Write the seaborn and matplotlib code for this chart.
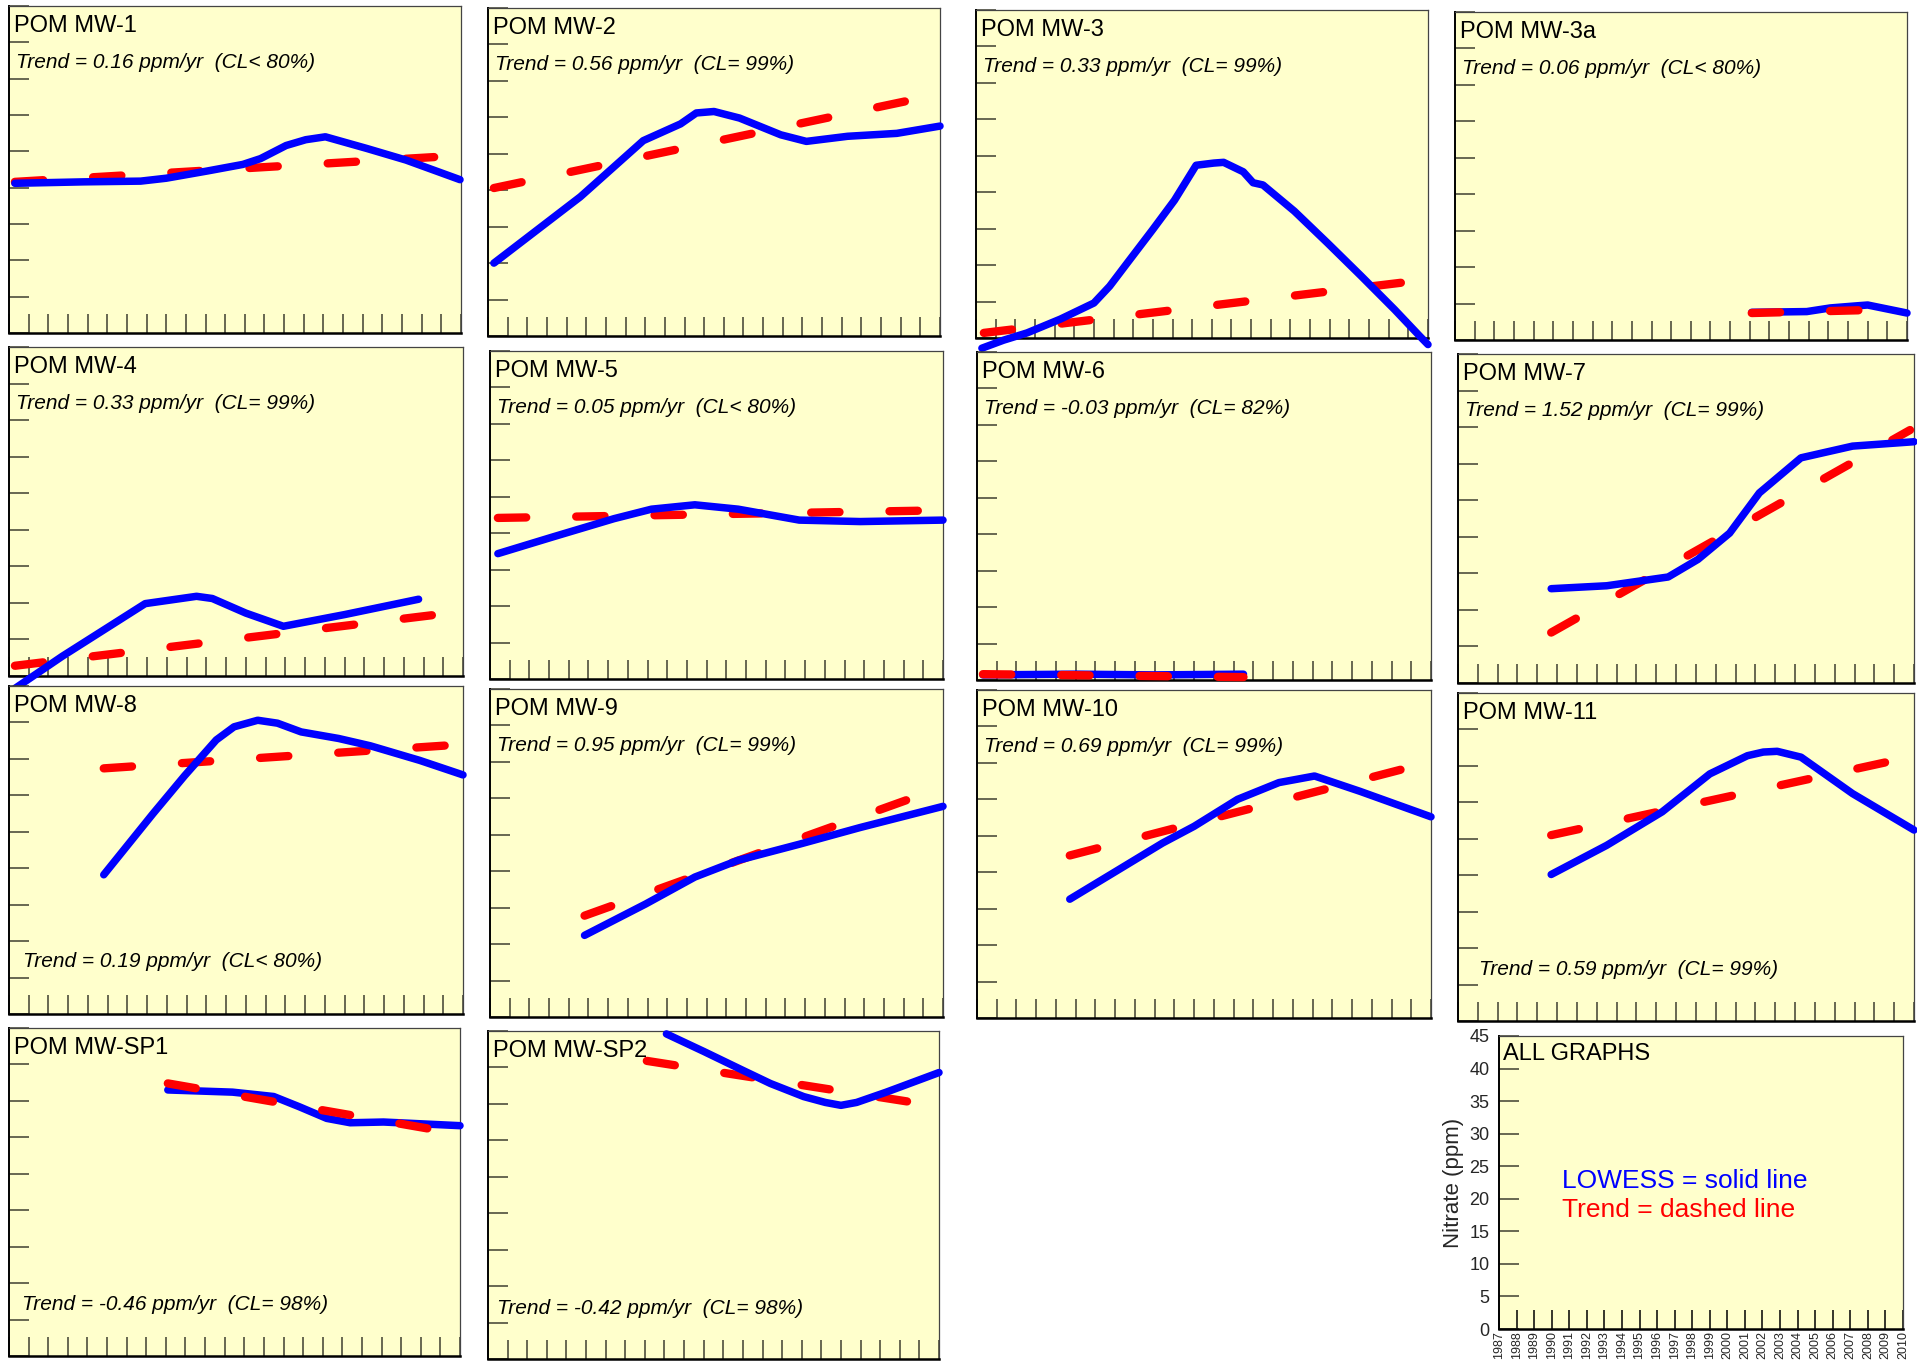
import matplotlib
matplotlib.use("Agg")
import matplotlib.pyplot as plt
import seaborn as sns
import pandas as pd

# ------------------------------------------------------------------ data
YEAR_TICKS = list(range(1987, 2011))
NITRATE_TICKS = list(range(0, 50, 5))

MW1_YEAR = [1987.3, 1990.8, 1993.7, 1995.0, 1997.1, 1998.9, 1999.8, 2001.1, 2002.1, 2003.1, 2005.2, 2007.2, 2009.95]
MW1_LOWESS = [20.6, 20.8, 20.9, 21.3, 22.3, 23.2, 24.0, 25.8, 26.6, 27.0, 25.4, 23.8, 21.1]
MW1_TREND_YEAR = [1987.3, 2009.2]
MW1_TREND = [20.8, 24.3]

MW2_YEAR = [1987.3, 1991.7, 1994.9, 1996.8, 1997.6, 1998.5, 1999.8, 2001.9, 2003.2, 2005.3, 2007.8, 2010.0]
MW2_LOWESS = [10.0, 19.1, 26.8, 29.1, 30.6, 30.8, 29.9, 27.6, 26.7, 27.4, 27.8, 28.8]
MW2_TREND_YEAR = [1987.3, 2008.6]
MW2_TREND = [20.3, 32.4]

MW3_YEAR = [1987.3, 1988.4, 1989.6, 1991.3, 1993.0, 1993.8, 1994.7, 1996.0, 1997.1, 1998.2, 1999.1,
            1999.6, 2000.6, 2001.1, 2001.6, 2003.2, 2004.9, 2006.6, 2008.3, 2009.6, 2010.0]
MW3_LOWESS = [-1.4, -0.3, 0.7, 2.6, 4.8, 7.1, 10.3, 14.9, 18.9, 23.7, 24.0,
              24.1, 22.8, 21.3, 21.0, 17.4, 13.0, 8.5, 3.9, 0.2, -0.9]
MW3_TREND_YEAR = [1987.4, 2009.0]
MW3_TREND = [0.7, 7.7]

MW3A_YEAR = [2002.1, 2004.9, 2006.1, 2007.5, 2008.0, 2010.0]
MW3A_LOWESS = [3.8, 3.9, 4.4, 4.7, 4.8, 3.7]
MW3A_TREND_YEAR = [2002.1, 2007.9]
MW3A_TREND = [3.7, 4.1]

MW4_YEAR = [1987.3, 1989.7, 1991.8, 1993.9, 1996.5, 1997.3, 1999.0, 2000.9, 2004.0, 2007.75]
MW4_LOWESS = [-1.7, 2.7, 6.3, 9.9, 10.9, 10.6, 8.6, 6.8, 8.4, 10.5]
MW4_TREND_YEAR = [1987.3, 2009.0]
MW4_TREND = [1.4, 8.5]

MW5_YEAR = [1987.4, 1990.2, 1993.3, 1995.2, 1997.4, 1999.6, 2002.7, 2005.8, 2010.0]
MW5_LOWESS = [17.2, 19.5, 22.0, 23.3, 23.9, 23.3, 21.8, 21.6, 21.8]
MW5_TREND_YEAR = [1987.4, 2009.1]
MW5_TREND = [22.1, 23.1]

MW6_YEAR = [1987.3, 1992.0, 1996.0, 2000.5]
MW6_LOWESS = [0.7, 0.8, 0.7, 0.8]
MW6_TREND_YEAR = [1987.3, 2000.5]
MW6_TREND = [0.8, 0.4]

MW7_YEAR = [1991.7, 1994.5, 1997.6, 1999.1, 2000.7, 2002.2, 2004.3, 2006.9, 2010.0]
MW7_LOWESS = [12.9, 13.3, 14.5, 16.9, 20.5, 26.0, 30.8, 32.4, 33.0]
MW7_TREND_YEAR = [1991.7, 2009.8]
MW7_TREND = [6.9, 34.6]

MW8_YEAR = [1991.8, 1994.3, 1995.9, 1997.5, 1998.4, 1999.6, 2000.6, 2001.8, 2003.7, 2005.3, 2007.8, 2010.0]
MW8_LOWESS = [19.1, 27.5, 32.7, 37.6, 39.4, 40.3, 39.9, 38.7, 37.8, 36.8, 34.8, 32.8]
MW8_TREND_YEAR = [1991.8, 2009.5]
MW8_TREND = [33.7, 36.9]

MW9_YEAR = [1991.8, 1994.9, 1997.4, 1999.6, 2002.7, 2005.8, 2010.0]
MW9_LOWESS = [11.2, 15.5, 19.2, 21.5, 23.7, 26.0, 28.9]
MW9_TREND_YEAR = [1991.8, 2008.3]
MW9_TREND = [13.9, 29.9]

MW10_YEAR = [1991.7, 1993.9, 1996.4, 1998.0, 2000.2, 2002.3, 2004.1, 2006.4, 2010.0]
MW10_LOWESS = [16.3, 19.9, 24.0, 26.3, 30.0, 32.3, 33.2, 31.1, 27.6]
MW10_TREND_YEAR = [1991.7, 2008.8]
MW10_TREND = [22.3, 34.3]

MW11_YEAR = [1991.7, 1994.5, 1997.3, 1999.7, 2001.6, 2002.4, 2003.1, 2004.3, 2006.9, 2010.0]
MW11_LOWESS = [20.1, 24.1, 28.7, 33.9, 36.4, 36.9, 37.0, 36.2, 31.2, 26.2]
MW11_TREND_YEAR = [1991.7, 2009.1]
MW11_TREND = [25.5, 35.8]

SP1_YEAR = [1995.1, 1998.4, 2000.5, 2001.8, 2003.2, 2004.4, 2006.1, 2010.0]
SP1_LOWESS = [36.5, 36.2, 35.6, 34.2, 32.6, 32.0, 32.1, 31.6]
SP1_TREND_YEAR = [1995.1, 2008.6]
SP1_TREND = [37.4, 31.1]

SP2_YEAR = [1996.1, 1998.0, 2000.0, 2001.4, 2003.1, 2004.2, 2005.0, 2005.8, 2007.3, 2010.0]
SP2_LOWESS = [44.6, 42.2, 39.6, 37.8, 36.0, 35.2, 34.8, 35.2, 36.6, 39.3]
SP2_TREND_YEAR = [1995.1, 2008.7]
SP2_TREND = [40.9, 35.2]

TITLES = ["POM MW-1", "POM MW-2", "POM MW-3", "POM MW-3a", "POM MW-4", "POM MW-5", "POM MW-6",
          "POM MW-7", "POM MW-8", "POM MW-9", "POM MW-10", "POM MW-11", "POM MW-SP1", "POM MW-SP2"]
TREND_LABELS = [
    "Trend = 0.16 ppm/yr  (CL< 80%)", "Trend = 0.56 ppm/yr  (CL= 99%)",
    "Trend = 0.33 ppm/yr  (CL= 99%)", "Trend = 0.06 ppm/yr  (CL< 80%)",
    "Trend = 0.33 ppm/yr  (CL= 99%)", "Trend = 0.05 ppm/yr  (CL< 80%)",
    "Trend = -0.03 ppm/yr  (CL= 82%)", "Trend = 1.52 ppm/yr  (CL= 99%)",
    "Trend = 0.19 ppm/yr  (CL< 80%)", "Trend = 0.95 ppm/yr  (CL= 99%)",
    "Trend = 0.69 ppm/yr  (CL= 99%)", "Trend = 0.59 ppm/yr  (CL= 99%)",
    "Trend = -0.46 ppm/yr  (CL= 98%)", "Trend = -0.42 ppm/yr  (CL= 98%)",
]
SERIES = [
    (MW1_YEAR, MW1_LOWESS, MW1_TREND_YEAR, MW1_TREND),
    (MW2_YEAR, MW2_LOWESS, MW2_TREND_YEAR, MW2_TREND),
    (MW3_YEAR, MW3_LOWESS, MW3_TREND_YEAR, MW3_TREND),
    (MW3A_YEAR, MW3A_LOWESS, MW3A_TREND_YEAR, MW3A_TREND),
    (MW4_YEAR, MW4_LOWESS, MW4_TREND_YEAR, MW4_TREND),
    (MW5_YEAR, MW5_LOWESS, MW5_TREND_YEAR, MW5_TREND),
    (MW6_YEAR, MW6_LOWESS, MW6_TREND_YEAR, MW6_TREND),
    (MW7_YEAR, MW7_LOWESS, MW7_TREND_YEAR, MW7_TREND),
    (MW8_YEAR, MW8_LOWESS, MW8_TREND_YEAR, MW8_TREND),
    (MW9_YEAR, MW9_LOWESS, MW9_TREND_YEAR, MW9_TREND),
    (MW10_YEAR, MW10_LOWESS, MW10_TREND_YEAR, MW10_TREND),
    (MW11_YEAR, MW11_LOWESS, MW11_TREND_YEAR, MW11_TREND),
    (SP1_YEAR, SP1_LOWESS, SP1_TREND_YEAR, SP1_TREND),
    (SP2_YEAR, SP2_LOWESS, SP2_TREND_YEAR, SP2_TREND),
]

# ------------------------------------------------------------------ layout / style
W, H, DPI = 1917, 1362, 100
PX = 72.0 / DPI  # pixels -> points

# panel rectangles in pixels: left, top, right, bottom
RECTS = [
    (9, 6, 461, 333), (488, 8, 940, 336), (976, 10, 1428, 338), (1455, 12, 1907, 340),
    (9, 347, 463, 676), (490, 351, 943, 679), (977, 352, 1431, 680), (1458, 354, 1914, 683),
    (9, 686, 463, 1014), (490, 689, 943, 1017), (977, 690, 1431, 1018), (1458, 693, 1914, 1021),
    (9, 1028, 460, 1356), (488, 1031, 939, 1359),
]
ALL_RECT = (1499, 1036, 1903, 1329)
TEXT_POS = [("top", 7, 62)] * 8 + [("bottom", 14, 47), ("top", 7, 62), ("top", 7, 62),
                                   ("bottom", 21, 46), ("bottom", 13, 46), ("bottom", 9, 45)]
RED_ON_TOP = {3, 6, 12}

BG = "#FFFFCC"
BLUE = "#0000FF"
RED = "#FF0000"
TICK_C = "#3f3f30"

sns.set_style("ticks")
plt.rcParams["font.family"] = ["Liberation Sans", "DejaVu Sans"]

fig = plt.figure(figsize=(W / DPI, H / DPI), dpi=DPI)
fig.patch.set_facecolor("white")


def make_axes(rect):
    l, t, r, b = rect
    ax = fig.add_axes([l / W, 1 - b / H, (r - l) / W, (b - t) / H])
    ax.set_facecolor(BG)
    ax.set_xlim(1987, 2010)
    ax.set_ylim(0, 45)
    ax.set_xticks(YEAR_TICKS)
    ax.set_yticks(NITRATE_TICKS)
    ax.tick_params(axis="y", direction="in", length=20 * PX, width=1.1, color=TICK_C)
    ax.tick_params(axis="x", direction="in", length=19 * PX, width=1.1, color=TICK_C)
    for side in ("top", "right"):
        ax.spines[side].set_visible(True)
        ax.spines[side].set_color("#444444")
        ax.spines[side].set_linewidth(0.9)
    ax.spines["left"].set_color("black")
    ax.spines["left"].set_linewidth(1.4)
    ax.spines["bottom"].set_color("black")
    ax.spines["bottom"].set_linewidth(1.8)
    ax.set_xlabel("")
    ax.set_ylabel("")
    return ax


for i, (title, label, rect, (yr, low, tyr, tr), tpos) in enumerate(
        zip(TITLES, TREND_LABELS, RECTS, SERIES, TEXT_POS)):
    ax = make_axes(rect)
    ax.tick_params(labelbottom=False, labelleft=False)
    z_blue, z_red = (3, 4) if i in RED_ON_TOP else (4, 3)
    d_low = pd.DataFrame({"year": yr, "nitrate": low})
    d_tr = pd.DataFrame({"year": tyr, "nitrate": tr})
    sns.lineplot(data=d_tr, x="year", y="nitrate", ax=ax, color=RED, lw=6.0,
                 linestyle=(0, (3.4, 6.0)), dash_capstyle="round", estimator=None,
                 clip_on=False, zorder=z_red)
    sns.lineplot(data=d_low, x="year", y="nitrate", ax=ax, color=BLUE, lw=5.4,
                 solid_capstyle="round", solid_joinstyle="round", estimator=None,
                 clip_on=False, zorder=z_blue)
    ax.set_xlabel("")
    ax.set_ylabel("")
    ax.annotate(title, xy=(0, 1), xycoords="axes fraction", xytext=(5 * PX, -26 * PX),
                textcoords="offset points", ha="left", va="baseline", fontsize=17, color="black")
    where, dx, dy = tpos
    if where == "top":
        ax.annotate(label, xy=(0, 1), xycoords="axes fraction", xytext=(dx * PX, -dy * PX),
                    textcoords="offset points", ha="left", va="baseline", fontsize=15,
                    style="italic", color="black")
    else:
        ax.annotate(label, xy=(0, 0), xycoords="axes fraction", xytext=(dx * PX, dy * PX),
                    textcoords="offset points", ha="left", va="baseline", fontsize=15,
                    style="italic", color="black")

# ------------------------------------------------------------------ "ALL GRAPHS" key panel
ax = make_axes(ALL_RECT)
ax.tick_params(axis="x", color="black", labelsize=9, labelrotation=90, pad=1.5)
ax.tick_params(axis="y", labelsize=13, pad=7)
ax.set_xticklabels([str(y) for y in YEAR_TICKS])
ax.set_yticklabels([str(v) for v in NITRATE_TICKS])
for lab in ax.get_xticklabels():
    lab.set_verticalalignment("top")
ax.set_ylabel("Nitrate (ppm)", fontsize=16)
ax.yaxis.set_label_coords(-0.087, 0.5)
ax.annotate("ALL GRAPHS", xy=(0, 1), xycoords="axes fraction", xytext=(4 * PX, -24 * PX),
            textcoords="offset points", ha="left", va="baseline", fontsize=17, color="black")
ax.annotate("LOWESS = solid line", xy=(0, 1), xycoords="axes fraction", xytext=(63 * PX, -152 * PX),
            textcoords="offset points", ha="left", va="baseline", fontsize=19, color=BLUE)
ax.annotate("Trend = dashed line", xy=(0, 1), xycoords="axes fraction", xytext=(63 * PX, -181 * PX),
            textcoords="offset points", ha="left", va="baseline", fontsize=19, color=RED)

fig.savefig("out.png", dpi=DPI, facecolor="white")
